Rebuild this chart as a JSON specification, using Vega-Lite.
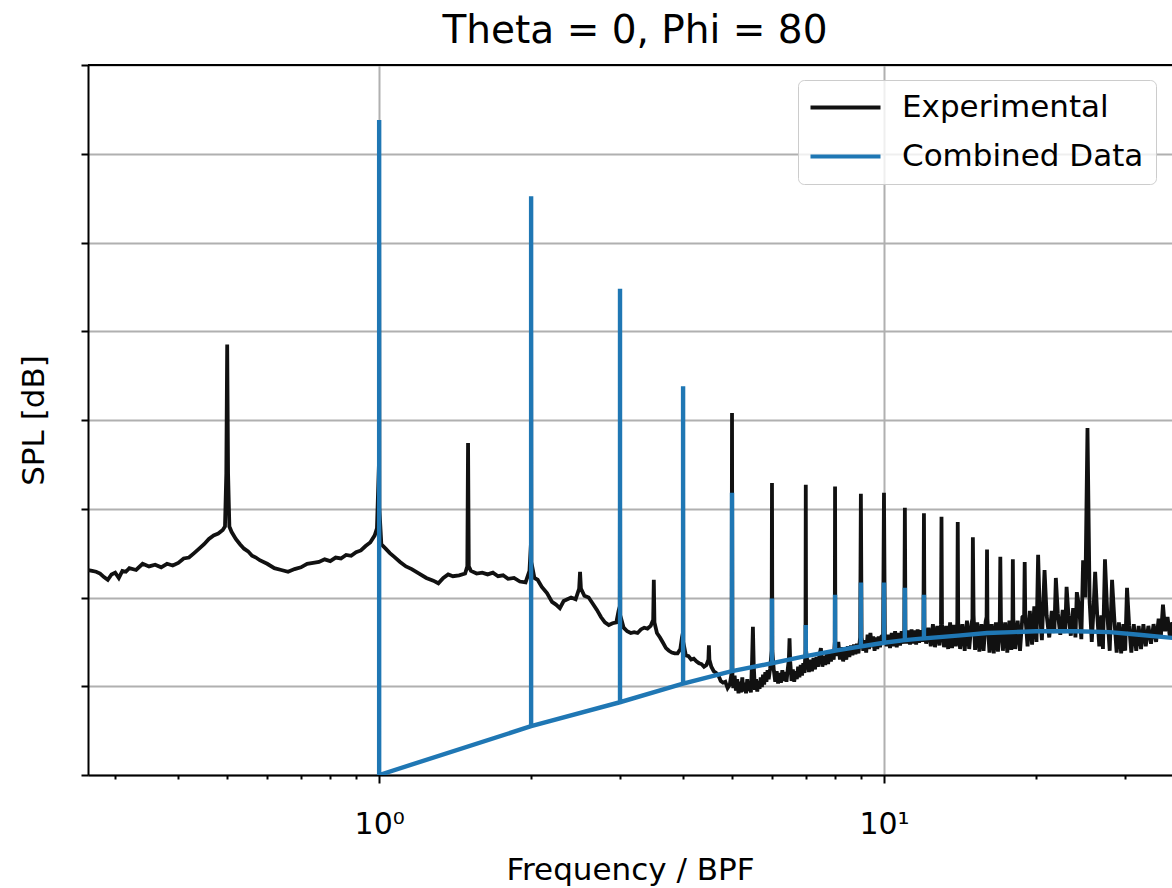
{
"$schema": "https://vega.github.io/schema/vega-lite/v6.json",
"width": 1084, "height": 710,
"autosize": {"type": "none"},
"padding": {"left": 88, "top": 65, "right": 0, "bottom": 113},
"background": "white",
"config": {"view": {"stroke": null}, "font": "DejaVu Sans"},
"title": {"text": "Theta = 0, Phi = 80", "fontSize": 39, "font": "DejaVu Sans", "fontWeight": "normal", "color": "black", "offset": 13, "dx": 5, "frame": "group", "anchor": "middle"},
"datasets": {
"exp": [
{"f":0.265,"spl":2.31},{"f":0.27,"spl":2.30},{"f":0.275,"spl":2.29},{"f":0.28,"spl":2.27},{"f":0.285,"spl":2.23},{"f":0.29,"spl":2.20},{"f":0.295,"spl":2.26},{"f":0.30,"spl":2.28},{"f":0.305,"spl":2.22},{"f":0.31,"spl":2.30},{"f":0.315,"spl":2.29},{"f":0.32,"spl":2.33},{"f":0.33,"spl":2.31},{"f":0.34,"spl":2.38},{"f":0.35,"spl":2.35},{"f":0.36,"spl":2.37},{"f":0.37,"spl":2.34},{"f":0.38,"spl":2.38},{"f":0.39,"spl":2.36},{"f":0.40,"spl":2.39},{"f":0.41,"spl":2.44},{"f":0.42,"spl":2.45},{"f":0.43,"spl":2.50},{"f":0.44,"spl":2.55},{"f":0.45,"spl":2.60},{"f":0.46,"spl":2.66},{"f":0.47,"spl":2.70},{"f":0.48,"spl":2.72},{"f":0.49,"spl":2.76},{"f":0.495,"spl":2.80},{"f":0.498,"spl":3.4},{"f":0.50,"spl":4.85},{"f":0.502,"spl":3.4},{"f":0.505,"spl":2.80},
{"f":0.51,"spl":2.74},{"f":0.52,"spl":2.66},{"f":0.53,"spl":2.60},{"f":0.54,"spl":2.55},{"f":0.55,"spl":2.52},{"f":0.56,"spl":2.47},{"f":0.57,"spl":2.45},{"f":0.58,"spl":2.42},{"f":0.60,"spl":2.38},{"f":0.62,"spl":2.33},{"f":0.64,"spl":2.31},{"f":0.66,"spl":2.29},{"f":0.68,"spl":2.32},{"f":0.70,"spl":2.34},{"f":0.72,"spl":2.38},{"f":0.74,"spl":2.39},{"f":0.76,"spl":2.40},{"f":0.78,"spl":2.43},{"f":0.80,"spl":2.41},{"f":0.82,"spl":2.45},{"f":0.84,"spl":2.44},{"f":0.86,"spl":2.48},{"f":0.88,"spl":2.47},{"f":0.90,"spl":2.51},{"f":0.92,"spl":2.53},{"f":0.94,"spl":2.58},{"f":0.96,"spl":2.62},{"f":0.98,"spl":2.70},{"f":0.99,"spl":2.78},{"f":0.999,"spl":3.5},{"f":1.0,"spl":6.0},{"f":1.001,"spl":3.0},
{"f":1.01,"spl":2.60},{"f":1.03,"spl":2.55},{"f":1.05,"spl":2.50},{"f":1.07,"spl":2.46},{"f":1.10,"spl":2.40},{"f":1.13,"spl":2.35},{"f":1.16,"spl":2.32},{"f":1.20,"spl":2.27},{"f":1.24,"spl":2.22},{"f":1.28,"spl":2.19},{"f":1.31,"spl":2.16},{"f":1.34,"spl":2.22},{"f":1.37,"spl":2.26},{"f":1.40,"spl":2.24},{"f":1.44,"spl":2.25},{"f":1.48,"spl":2.27},{"f":1.495,"spl":2.35},{"f":1.50,"spl":3.74},{"f":1.505,"spl":2.35},{"f":1.52,"spl":2.30},{"f":1.56,"spl":2.27},{"f":1.60,"spl":2.28},{"f":1.64,"spl":2.26},{"f":1.68,"spl":2.28},{"f":1.72,"spl":2.24},{"f":1.76,"spl":2.25},{"f":1.80,"spl":2.21},{"f":1.85,"spl":2.22},{"f":1.90,"spl":2.18},{"f":1.95,"spl":2.17},{"f":1.985,"spl":2.3},{"f":1.998,"spl":2.6},{"f":2.0,"spl":5.0},{"f":2.002,"spl":2.4},
{"f":2.03,"spl":2.22},{"f":2.06,"spl":2.20},{"f":2.10,"spl":2.12},{"f":2.15,"spl":2.05},{"f":2.20,"spl":1.95},{"f":2.24,"spl":1.92},{"f":2.28,"spl":1.88},{"f":2.32,"spl":1.96},{"f":2.36,"spl":1.98},{"f":2.40,"spl":2.00},{"f":2.45,"spl":1.98},{"f":2.49,"spl":2.10},{"f":2.50,"spl":2.29},{"f":2.51,"spl":2.10},{"f":2.55,"spl":2.02},{"f":2.60,"spl":2.00},{"f":2.65,"spl":1.93},{"f":2.70,"spl":1.86},{"f":2.75,"spl":1.78},{"f":2.80,"spl":1.72},{"f":2.85,"spl":1.69},{"f":2.90,"spl":1.71},{"f":2.95,"spl":1.72},{"f":2.98,"spl":1.85},{"f":2.997,"spl":1.9},{"f":3.0,"spl":4.0},{"f":3.003,"spl":1.80},
{"f":3.05,"spl":1.66},{"f":3.10,"spl":1.62},{"f":3.15,"spl":1.60},{"f":3.20,"spl":1.61},{"f":3.25,"spl":1.60},{"f":3.30,"spl":1.64},{"f":3.35,"spl":1.66},{"f":3.40,"spl":1.65},{"f":3.45,"spl":1.68},{"f":3.49,"spl":1.75},{"f":3.50,"spl":2.20},{"f":3.51,"spl":1.72},{"f":3.55,"spl":1.60},{"f":3.60,"spl":1.55},{"f":3.65,"spl":1.49},{"f":3.70,"spl":1.43},{"f":3.75,"spl":1.40},{"f":3.80,"spl":1.38},{"f":3.85,"spl":1.37},{"f":3.90,"spl":1.37},{"f":3.95,"spl":1.42},{"f":3.98,"spl":1.55},{"f":3.997,"spl":1.6},{"f":4.0,"spl":3.5},{"f":4.003,"spl":1.50},
{"f":4.05,"spl":1.35},{"f":4.10,"spl":1.34},{"f":4.15,"spl":1.30},{"f":4.20,"spl":1.31},{"f":4.25,"spl":1.28},{"f":4.30,"spl":1.26},{"f":4.35,"spl":1.25},{"f":4.40,"spl":1.22},{"f":4.45,"spl":1.24},{"f":4.49,"spl":1.30},{"f":4.50,"spl":1.46},{"f":4.51,"spl":1.30},{"f":4.55,"spl":1.22},{"f":4.60,"spl":1.17},{"f":4.65,"spl":1.15},{"f":4.70,"spl":1.12},{"f":4.75,"spl":1.06},{"f":4.80,"spl":1.04},{"f":4.85,"spl":1.05},{"f":4.90,"spl":0.98},{"f":4.95,"spl":1.02},{"f":4.99,"spl":1.15},{"f":5.0,"spl":4.08},{"f":5.01,"spl":1.10},
{"f":5.03,"spl":0.98},{"f":5.06,"spl":1.12},{"f":5.09,"spl":0.95},{"f":5.12,"spl":1.08},{"f":5.15,"spl":0.92},{"f":5.18,"spl":1.05},{"f":5.21,"spl":0.93},{"f":5.24,"spl":1.10},{"f":5.27,"spl":0.94},{"f":5.30,"spl":1.04},{"f":5.33,"spl":0.92},{"f":5.36,"spl":1.08},{"f":5.39,"spl":0.95},{"f":5.42,"spl":1.00},{"f":5.45,"spl":0.93},{"f":5.48,"spl":1.30},{"f":5.50,"spl":1.67},{"f":5.52,"spl":1.25},{"f":5.55,"spl":0.96},{"f":5.58,"spl":1.08},{"f":5.61,"spl":0.94},{"f":5.64,"spl":1.06},{"f":5.67,"spl":0.97},{"f":5.70,"spl":1.10},{"f":5.73,"spl":0.99},{"f":5.76,"spl":1.13},{"f":5.79,"spl":1.02},{"f":5.82,"spl":1.16},{"f":5.85,"spl":1.05},{"f":5.88,"spl":1.18},{"f":5.91,"spl":1.08},{"f":5.95,"spl":1.20},{"f":5.99,"spl":1.40},{"f":6.0,"spl":3.29},{"f":6.01,"spl":1.40},
{"f":6.05,"spl":1.18},{"f":6.09,"spl":1.05},{"f":6.13,"spl":1.17},{"f":6.17,"spl":1.03},{"f":6.21,"spl":1.15},{"f":6.25,"spl":1.04},{"f":6.29,"spl":1.18},{"f":6.33,"spl":1.06},{"f":6.37,"spl":1.16},{"f":6.41,"spl":1.05},{"f":6.45,"spl":1.20},{"f":6.48,"spl":1.30},{"f":6.50,"spl":1.54},{"f":6.52,"spl":1.28},{"f":6.56,"spl":1.06},{"f":6.60,"spl":1.19},{"f":6.64,"spl":1.05},{"f":6.68,"spl":1.17},{"f":6.72,"spl":1.08},{"f":6.76,"spl":1.22},{"f":6.80,"spl":1.10},{"f":6.84,"spl":1.24},{"f":6.88,"spl":1.12},{"f":6.92,"spl":1.26},{"f":6.96,"spl":1.15},{"f":6.99,"spl":1.40},{"f":7.0,"spl":3.27},{"f":7.01,"spl":1.40},
{"f":7.05,"spl":1.28},{"f":7.10,"spl":1.16},{"f":7.15,"spl":1.30},{"f":7.20,"spl":1.17},{"f":7.25,"spl":1.32},{"f":7.30,"spl":1.19},{"f":7.35,"spl":1.33},{"f":7.40,"spl":1.22},{"f":7.45,"spl":1.35},{"f":7.50,"spl":1.43},{"f":7.55,"spl":1.22},{"f":7.60,"spl":1.34},{"f":7.65,"spl":1.24},{"f":7.70,"spl":1.36},{"f":7.75,"spl":1.25},{"f":7.80,"spl":1.37},{"f":7.85,"spl":1.28},{"f":7.90,"spl":1.38},{"f":7.95,"spl":1.30},{"f":7.99,"spl":1.50},{"f":8.0,"spl":3.25},{"f":8.01,"spl":1.50},
{"f":8.06,"spl":1.34},{"f":8.12,"spl":1.50},{"f":8.18,"spl":1.30},{"f":8.24,"spl":1.44},{"f":8.30,"spl":1.28},{"f":8.36,"spl":1.42},{"f":8.42,"spl":1.30},{"f":8.48,"spl":1.45},{"f":8.54,"spl":1.33},{"f":8.60,"spl":1.46},{"f":8.66,"spl":1.35},{"f":8.72,"spl":1.47},{"f":8.78,"spl":1.36},{"f":8.84,"spl":1.48},{"f":8.90,"spl":1.37},{"f":8.97,"spl":1.55},{"f":9.0,"spl":3.17},{"f":9.03,"spl":1.55},
{"f":9.10,"spl":1.40},{"f":9.16,"spl":1.52},{"f":9.22,"spl":1.38},{"f":9.28,"spl":1.58},{"f":9.34,"spl":1.42},{"f":9.40,"spl":1.60},{"f":9.46,"spl":1.44},{"f":9.52,"spl":1.56},{"f":9.58,"spl":1.40},{"f":9.64,"spl":1.55},{"f":9.70,"spl":1.42},{"f":9.76,"spl":1.56},{"f":9.82,"spl":1.44},{"f":9.88,"spl":1.56},{"f":9.96,"spl":1.58},{"f":10.0,"spl":3.18},{"f":10.04,"spl":1.58},
{"f":10.12,"spl":1.45},{"f":10.20,"spl":1.58},{"f":10.28,"spl":1.43},{"f":10.36,"spl":1.60},{"f":10.44,"spl":1.45},{"f":10.52,"spl":1.62},{"f":10.60,"spl":1.44},{"f":10.68,"spl":1.60},{"f":10.76,"spl":1.46},{"f":10.84,"spl":1.62},{"f":10.92,"spl":1.48},{"f":10.97,"spl":1.62},{"f":11.0,"spl":3.01},{"f":11.03,"spl":1.62},
{"f":11.10,"spl":1.48},{"f":11.18,"spl":1.63},{"f":11.26,"spl":1.47},{"f":11.34,"spl":1.64},{"f":11.42,"spl":1.48},{"f":11.50,"spl":1.63},{"f":11.58,"spl":1.47},{"f":11.66,"spl":1.64},{"f":11.74,"spl":1.49},{"f":11.82,"spl":1.63},{"f":11.90,"spl":1.50},{"f":11.97,"spl":1.64},{"f":12.0,"spl":2.95},{"f":12.03,"spl":1.64},
{"f":12.12,"spl":1.48},{"f":12.25,"spl":1.66},{"f":12.38,"spl":1.45},{"f":12.50,"spl":1.70},{"f":12.62,"spl":1.44},{"f":12.75,"spl":1.68},{"f":12.88,"spl":1.46},{"f":12.97,"spl":1.70},{"f":13.0,"spl":2.91},{"f":13.03,"spl":1.70},
{"f":13.15,"spl":1.44},{"f":13.28,"spl":1.68},{"f":13.40,"spl":1.42},{"f":13.52,"spl":1.72},{"f":13.64,"spl":1.43},{"f":13.76,"spl":1.69},{"f":13.88,"spl":1.45},{"f":13.97,"spl":1.72},{"f":14.0,"spl":2.85},{"f":14.03,"spl":1.72},
{"f":14.15,"spl":1.42},{"f":14.30,"spl":1.70},{"f":14.45,"spl":1.40},{"f":14.60,"spl":1.74},{"f":14.75,"spl":1.42},{"f":14.90,"spl":1.70},{"f":14.97,"spl":1.76},{"f":15.0,"spl":2.68},{"f":15.05,"spl":1.80},
{"f":15.15,"spl":1.41},{"f":15.30,"spl":1.72},{"f":15.45,"spl":1.39},{"f":15.60,"spl":1.70},{"f":15.75,"spl":1.40},{"f":15.90,"spl":1.73},{"f":15.97,"spl":1.78},{"f":16.0,"spl":2.54},{"f":16.03,"spl":1.76},
{"f":16.18,"spl":1.38},{"f":16.34,"spl":1.70},{"f":16.50,"spl":1.37},{"f":16.66,"spl":1.72},{"f":16.82,"spl":1.39},{"f":16.96,"spl":1.75},{"f":17.0,"spl":2.46},{"f":17.05,"spl":1.74},
{"f":17.20,"spl":1.40},{"f":17.38,"spl":1.72},{"f":17.55,"spl":1.38},{"f":17.72,"spl":1.74},{"f":17.88,"spl":1.41},{"f":17.97,"spl":1.76},{"f":18.0,"spl":2.43},{"f":18.04,"spl":1.76},
{"f":18.20,"spl":1.42},{"f":18.40,"spl":1.74},{"f":18.60,"spl":1.40},{"f":18.80,"spl":1.78},{"f":18.95,"spl":1.80},{"f":19.0,"spl":2.40},{"f":19.05,"spl":1.80},
{"f":19.25,"spl":1.45},{"f":19.45,"spl":1.85},{"f":19.65,"spl":1.47},{"f":19.85,"spl":1.90},{"f":20.05,"spl":1.50},{"f":20.2,"spl":2.48},{"f":20.35,"spl":1.85},{"f":20.55,"spl":1.52},{"f":20.8,"spl":2.31},{"f":21.0,"spl":1.80},{"f":21.25,"spl":1.55},{"f":21.5,"spl":1.85},{"f":21.75,"spl":1.60},{"f":21.9,"spl":2.22},{"f":22.1,"spl":1.82},{"f":22.35,"spl":1.58},{"f":22.6,"spl":1.86},{"f":22.85,"spl":1.60},{"f":23.0,"spl":2.12},{"f":23.2,"spl":1.80},{"f":23.45,"spl":1.57},{"f":23.7,"spl":1.88},{"f":23.95,"spl":1.55},{"f":24.1,"spl":2.06},{"f":24.35,"spl":1.90},{"f":24.6,"spl":1.53},{"f":24.8,"spl":2.42},{"f":25.05,"spl":2.00},{"f":25.3,"spl":3.91},{"f":25.55,"spl":1.95},{"f":25.8,"spl":1.50},{"f":26.0,"spl":1.85},{"f":26.2,"spl":2.29},{"f":26.45,"spl":1.80},{"f":26.7,"spl":1.45},{"f":26.95,"spl":1.80},{"f":27.15,"spl":1.42},{"f":27.4,"spl":2.43},{"f":27.7,"spl":1.80},{"f":28.0,"spl":1.40},{"f":28.3,"spl":2.20},{"f":28.6,"spl":1.75},{"f":28.9,"spl":1.38},{"f":29.2,"spl":1.72},{"f":29.5,"spl":1.37},{"f":29.8,"spl":1.70},{"f":30.05,"spl":1.40},{"f":30.3,"spl":2.11},{"f":30.6,"spl":1.68},{"f":30.9,"spl":1.38},{"f":31.25,"spl":1.70},{"f":31.6,"spl":1.40},{"f":31.95,"spl":1.68},{"f":32.3,"spl":1.42},{"f":32.65,"spl":1.70},{"f":33.0,"spl":1.45},{"f":33.4,"spl":1.68},{"f":33.8,"spl":1.48},{"f":34.2,"spl":1.70},{"f":34.6,"spl":1.50},{"f":35.0,"spl":1.76},{"f":35.35,"spl":1.55},{"f":35.7,"spl":1.92},{"f":36.05,"spl":1.62},{"f":36.45,"spl":1.78},{"f":36.85,"spl":1.55},{"f":37.25,"spl":1.72},{"f":37.65,"spl":1.56},{"f":38.0,"spl":1.70},{"f":38.5,"spl":1.60}
],
"comb": [
{"i":1,"f":1,"spl":7.38},{"i":2,"f":1,"spl":0},{"i":3,"f":2,"spl":0.55},{"i":4,"f":2,"spl":6.52},{"i":5,"f":2,"spl":0.55},{"i":6,"f":3,"spl":0.82},{"i":7,"f":3,"spl":5.48},{"i":8,"f":3,"spl":0.82},{"i":9,"f":4,"spl":1.03},{"i":10,"f":4,"spl":4.38},{"i":11,"f":4,"spl":1.03},{"i":12,"f":5,"spl":1.17},{"i":13,"f":5,"spl":3.18},{"i":14,"f":5,"spl":1.17},{"i":15,"f":6,"spl":1.26},{"i":16,"f":6,"spl":1.99},{"i":17,"f":6,"spl":1.26},{"i":18,"f":7,"spl":1.34},{"i":19,"f":7,"spl":1.69},{"i":20,"f":7,"spl":1.34},{"i":21,"f":8,"spl":1.40},{"i":22,"f":8,"spl":2.03},{"i":23,"f":8,"spl":1.40},{"i":24,"f":9,"spl":1.45},{"i":25,"f":9,"spl":2.17},{"i":26,"f":9,"spl":1.45},{"i":27,"f":10,"spl":1.49},{"i":28,"f":10,"spl":2.17},{"i":29,"f":10,"spl":1.49},{"i":30,"f":11,"spl":1.52},{"i":31,"f":11,"spl":2.11},{"i":32,"f":11,"spl":1.52},{"i":33,"f":12,"spl":1.54},{"i":34,"f":12,"spl":2.03},{"i":35,"f":12,"spl":1.54},{"i":36,"f":14,"spl":1.57},{"i":37,"f":16,"spl":1.60},{"i":38,"f":18,"spl":1.61},{"i":39,"f":20,"spl":1.62},{"i":40,"f":24,"spl":1.62},{"i":41,"f":28,"spl":1.61},{"i":42,"f":32,"spl":1.58},{"i":43,"f":38,"spl":1.54}
]
},
"layer": [
{"data": {"name": "exp"},
 "mark": {"type": "line", "strokeWidth": 3.8, "clip": true},
 "encoding": {
  "x": {"field": "f", "type": "quantitative",
   "scale": {"type": "log", "domain": [0.265, 37.2], "nice": false},
   "axis": {"values": [0.3,0.4,0.5,0.6,0.7,0.8,0.9,1,2,3,4,5,6,7,8,9,10,20,30],
    "labelExpr": "datum.value == 1 ? '10⁰' : (datum.value == 10 ? '10¹' : '')",
    "labelOverlap": false, "labelFlush": false,
    "labelFontSize": 30, "labelColor": "black", "labelFont": "DejaVu Sans", "labelPadding": 26,
    "title": "Frequency / BPF", "titleFontSize": 31, "titleFontWeight": "normal", "titleColor": "black", "titleFont": "DejaVu Sans", "titlePadding": 16,
    "domainColor": "black", "domainWidth": 2,
    "tickColor": "black", "tickWidth": 2,
    "tickSize": {"condition": {"test": "datum.value == 1 || datum.value == 10", "value": 8}, "value": 4},
    "grid": true, "gridColor": "#b0b0b0", "gridWidth": 2,
    "gridOpacity": {"condition": {"test": "datum.value == 1 || datum.value == 10", "value": 1}, "value": 0}}},
  "y": {"field": "spl", "type": "quantitative",
   "scale": {"domain": [0, 8], "nice": false, "zero": false},
   "axis": {"values": [0,1,2,3,4,5,6,7,8], "labels": false,
    "title": "SPL [dB]", "titleFontSize": 31, "titleFontWeight": "normal", "titleColor": "black", "titleFont": "DejaVu Sans", "titlePadding": 30,
    "domainColor": "black", "domainWidth": 2, "tickColor": "black", "tickWidth": 2, "tickSize": 7,
    "grid": true, "gridColor": "#b0b0b0", "gridWidth": 2}},
  "color": {"datum": "Experimental",
   "scale": {"domain": ["Experimental", "Combined Data"], "range": ["#111111", "#1f77b4"]},
   "legend": {"orient": "none", "legendX": 710, "legendY": 15, "title": null,
    "symbolType": "M-7,0H7", "symbolSize": 100, "symbolStrokeWidth": 4, "symbolOffset": 20,
    "labelFontSize": 31, "labelFont": "DejaVu Sans", "labelColor": "black", "labelOffset": 41, "labelLimit": 400,
    "padding": 12, "rowPadding": 17,
    "fillColor": "rgba(255,255,255,0.8)", "strokeColor": "#cccccc", "cornerRadius": 6}}
 }},
{"data": {"name": "comb"},
 "mark": {"type": "line", "strokeWidth": 4.4, "clip": true},
 "encoding": {
  "x": {"field": "f", "type": "quantitative"},
  "y": {"field": "spl", "type": "quantitative"},
  "order": {"field": "i", "type": "quantitative"},
  "color": {"datum": "Combined Data"}
 }},
{"data": {"values": [{}]},
 "mark": {"type": "rule", "color": "black", "strokeWidth": 2},
 "encoding": {"y": {"datum": 8}}}
]
}
